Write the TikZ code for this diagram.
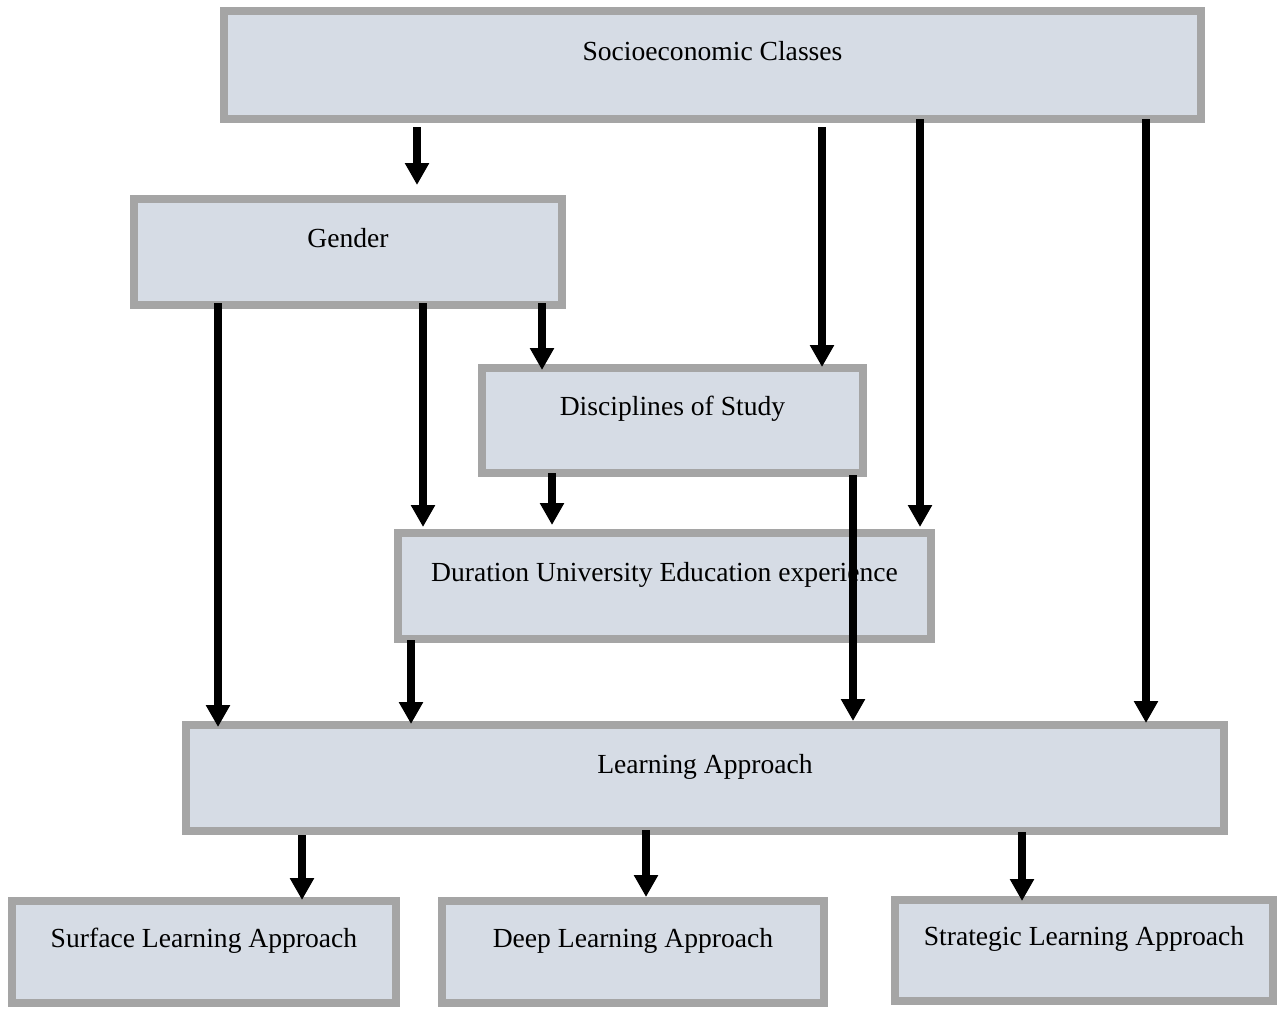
\documentclass[tikz,border=0pt]{standalone}
\usepackage{fontspec}
\setmainfont{Liberation Serif}
\usetikzlibrary{arrows.meta}
\definecolor{boxline}{HTML}{A5A5A5}
\definecolor{boxfill}{HTML}{D6DCE5}
\tikzset{
  box/.style={draw=boxline, fill=boxfill, line width=4pt, rectangle,
    text height=10pt, text depth=15pt,
    font=\fontsize{13.8}{16}\selectfont},
  arr/.style={line width=3.75pt, -{Triangle[width=11.5pt,length=11pt]}}
}

\begin{document}
\begin{tikzpicture}[x=0.5pt,y=-0.5pt]
        \useasboundingbox (0,0) rectangle (1278,1008);
        \node[box, minimum width=488.5pt, minimum height=54pt] (socio) at (712.5,65) {Socioeconomic Classes};
        \node[box, minimum width=214pt, minimum height=53pt] (gender) at (348,252) {Gender};
        \node[box, minimum width=190.5pt, minimum height=52.5pt] (disc) at (672.5,420.5) {Disciplines of Study};
        \node[box, minimum width=266.5pt, minimum height=53pt] (dur) at (664.5,586) {Duration University Education experience};
        \node[box, minimum width=519pt, minimum height=53pt] (learn) at (705,778) {Learning Approach};
        \node[box, minimum width=192pt, minimum height=51pt] (surf) at (204,952) {Surface Learning Approach};
        \node[box, minimum width=191pt, minimum height=51pt] (deep) at (633,952) {Deep Learning Approach};
        \node[box, minimum width=189pt, minimum height=50.5pt] (strat) at (1084,950.5) {Strategic Learning Approach};
        % x / from / to / start / end
        \foreach \x/\a/\b/\s/\e in {417/socio/gender/2/5, 822/socio/disc/2/-1.5,
            920/socio/dur/-2/1, 1146/socio/learn/-2/-1, 218/gender/learn/-3/-3,
            423/gender/dur/-3/1, 542/gender/disc/-3/-3, 552/disc/dur/-2/2,
            853/disc/learn/-1/0, 411/dur/learn/-1.5/-1.5, 302/learn/surf/0/-1.5,
            646/learn/deep/-2.5/0, 1022/learn/strat/-1.5/-2.5}
        \draw[arr, shorten <=\s pt, shorten >=\e pt] (\x,0 |- \a.south) -- (\x,0 |- \b.north);
    \end{tikzpicture}
\end{document}
